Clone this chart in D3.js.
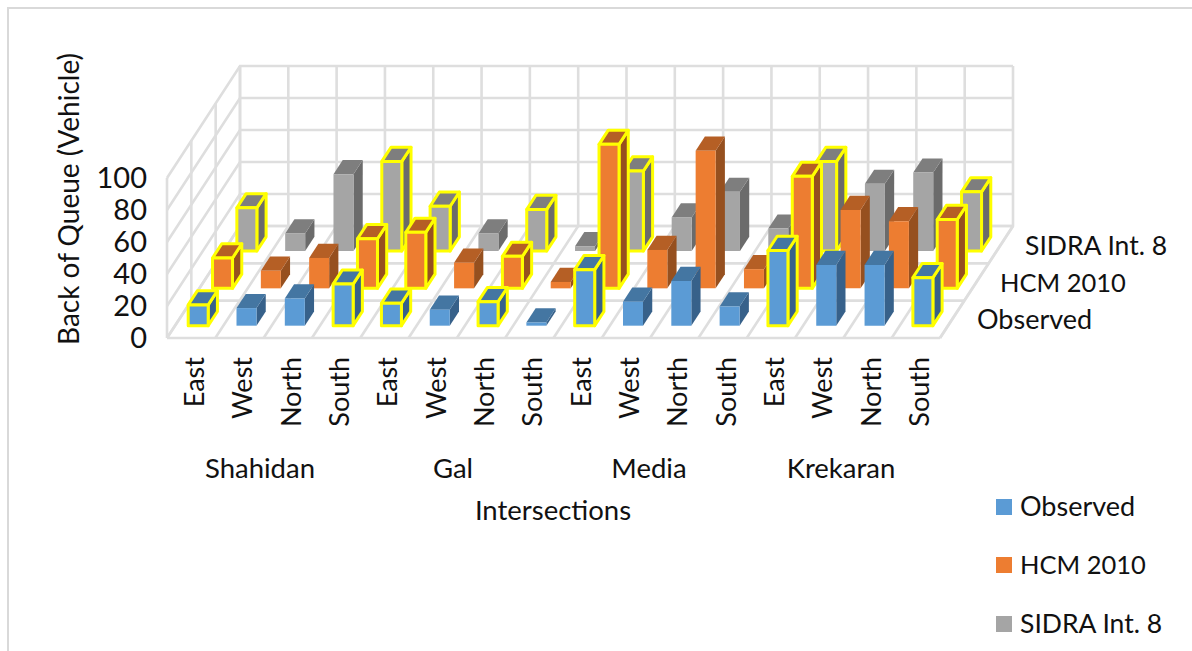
<!DOCTYPE html>
<html>
<head>
<meta charset="utf-8">
<script src="https://cdn.jsdelivr.net/npm/d3@7"></script>
<style>
  body { margin: 0; background: #fff; }
  text { font-family: Lato, "Open Sans", sans-serif; fill: #111; }
</style>
</head>
<body>
<svg width="1192" height="651"></svg>
<script>
var directions = ["East", "West", "North", "South"];
var intersections = ["Shahidan", "Gal", "Media", "Krekaran"];
var seriesNames = ["Observed", "HCM 2010", "SIDRA Int. 8"];
var yTicks = [0, 20, 40, 60, 80, 100];

var observed = [13, 11, 17, 26, 14, 10, 15, 2, 35, 15, 28, 12, 47, 38, 38, 30];
var hcm2010 = [19, 11, 19, 31, 35, 16, 20, 4, 90, 24, 86, 12, 70, 49, 42, 43];
var sidra8 = [27, 11, 48, 56, 28, 11, 26, 3, 50, 21, 37, 14, 56, 42, 49, 37];
var seriesValues = [observed, hcm2010, sidra8];

// bars that have the yellow selection outline in the picture (same in every series)
var outlined = [0, 3, 4, 6, 8, 12, 15];

var frontColors = ["#5b9bd5", "#ed7d31", "#a5a5a5"];
var topColors = ["#4476a2", "#b55f25", "#7e7e7e"];
var sideColors = ["#37618a", "#96501f", "#6b6b6b"];

var svg = d3.select("svg");

// page frame
svg.append("path")
    .attr("d", "M8,651V8H1192")
    .attr("fill", "none")
    .attr("stroke", "#d9d9d9")
    .attr("stroke-width", 2);

var categories = d3.range(16);
var x = d3.scaleBand().domain(categories).range([167, 940]);
var y = d3.scaleLinear().domain([0, 100]).range([338, 178]);
// depth runs from the front of the floor to the back wall
var depthX = d3.scaleLinear().domain([0, 3]).range([0, 73]);
var depthY = d3.scaleLinear().domain([0, 3]).range([0, -112]);

var barWidth = 20;
var barDepth = 0.38;

function pt(cat, val, d) {
    return [cat + depthX(d), y(val) + depthY(d)];
}
function line(a) {
    return d3.line()(a);
}

// walls and floor grid
var grid = svg.append("g")
    .attr("fill", "none")
    .attr("stroke", "#dedede")
    .attr("stroke-width", 2.6);

var xEdge = categories.map(function(c) { return x(c); }).concat([x.range()[1]]);

yTicks.forEach(function(t) {
    grid.append("path").attr("d", line([pt(x(0), t, 0), pt(x(0), t, 3), pt(x.range()[1], t, 3)]));
});
xEdge.forEach(function(e) {
    grid.append("path").attr("d", line([pt(e, 0, 0), pt(e, 0, 3), pt(e, 100, 3)]));
});
d3.range(0, 4).forEach(function(d) {
    grid.append("path").attr("d", line([pt(x(0), 0, d), pt(x(0), 100, d)]));
    grid.append("path").attr("d", line([pt(x(0), 0, d), pt(x.range()[1], 0, d)]));
});
// right edge of the floor
grid.append("path").attr("d", line([pt(x.range()[1], 0, 0), pt(x.range()[1], 0, 3)]));

// bars, back row first
var bars = svg.append("g");
d3.range(2, -1, -1).forEach(function(s) {
    seriesValues[s].forEach(function(v, i) {
        var g = bars.append("g");
        var x0 = x(i) + x.bandwidth() / 2 - barWidth / 2 - 1;
        var x1 = x0 + barWidth;
        var d0 = s + 0.5 - barDepth / 2 + 0.02;
        var d1 = d0 + barDepth;
        var faces = [
            { fill: sideColors[s], p: [pt(x1, 0, d0), pt(x1, 0, d1), pt(x1, v, d1), pt(x1, v, d0)] },
            { fill: topColors[s], p: [pt(x0, v, d0), pt(x1, v, d0), pt(x1, v, d1), pt(x0, v, d1)] },
            { fill: frontColors[s], p: [pt(x0, 0, d0), pt(x1, 0, d0), pt(x1, v, d0), pt(x0, v, d0)] }
        ];
        g.selectAll("path").data(faces).enter().append("path")
            .attr("d", function(f) { return line(f.p) + "Z"; })
            .attr("fill", function(f) { return f.fill; })
            .attr("stroke", outlined.indexOf(i) >= 0 ? "#ffff00" : "none")
            .attr("stroke-width", 3)
            .attr("stroke-linejoin", "round");
    });
});

// y tick labels
svg.append("g").selectAll("text").data(yTicks).enter().append("text")
    .attr("x", 147)
    .attr("y", function(t) { return y(t) + 10; })
    .attr("text-anchor", "end")
    .attr("font-size", 29)
    .text(function(t) { return t; });

svg.append("text")
    .attr("transform", "translate(79,199) rotate(-90)")
    .attr("text-anchor", "middle")
    .attr("font-size", 28)
    .text("Back of Queue (Vehicle)");

// direction labels, rotated
svg.append("g").selectAll("text").data(categories).enter().append("text")
    .attr("transform", function(c) {
        return "translate(" + (x(c) + x.bandwidth() / 2 + 13) + ",357) rotate(-90)";
    })
    .attr("text-anchor", "end")
    .attr("font-size", 27)
    .text(function(c) { return directions[c % 4]; });

var groupX = [260, 453, 649, 841];
svg.append("g").selectAll("text").data(intersections).enter().append("text")
    .attr("x", function(d, i) { return groupX[i]; })
    .attr("y", 478)
    .attr("text-anchor", "middle")
    .attr("font-size", 27.5)
    .text(function(d) { return d; });

svg.append("text")
    .attr("x", 553)
    .attr("y", 520)
    .attr("text-anchor", "middle")
    .attr("font-size", 27.5)
    .text("Intersections");

// depth axis labels
var depthLabelX = [977, 1000, 1025];
var depthLabelY = [329, 292, 255];
var labelSizes = [27, 25.5, 26.5];
seriesNames.forEach(function(n, i) {
    svg.append("text")
        .attr("x", depthLabelX[i])
        .attr("y", depthLabelY[i])
        .attr("font-size", labelSizes[i])
        .text(n);
});

// legend
var legendY = [507, 565, 624];
seriesNames.forEach(function(n, i) {
    svg.append("rect")
        .attr("x", 996)
        .attr("y", legendY[i] - 8)
        .attr("width", 16)
        .attr("height", 16)
        .attr("fill", frontColors[i]);
    svg.append("text")
        .attr("x", 1020)
        .attr("y", legendY[i] + 9)
        .attr("font-size", labelSizes[i])
        .text(n);
});
</script>
</body>
</html>
